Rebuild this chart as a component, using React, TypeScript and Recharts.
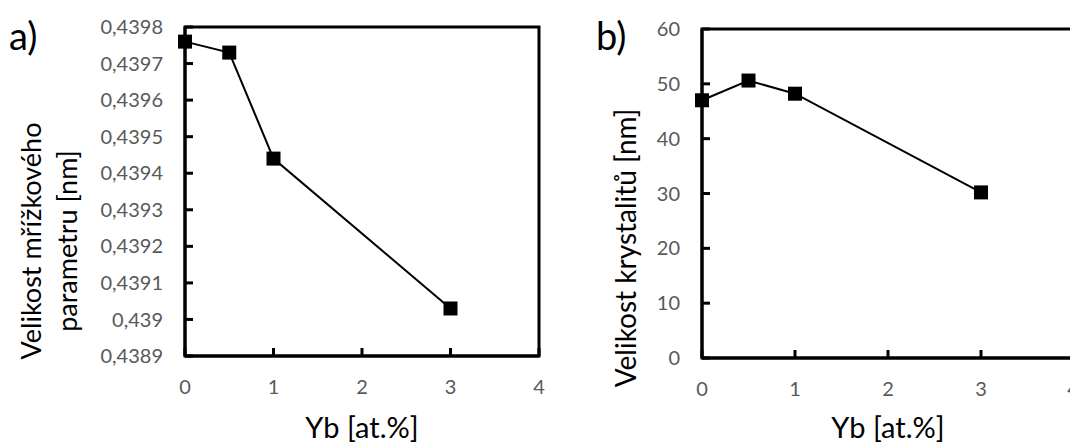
import { LineChart, Line, XAxis, YAxis, ReferenceArea } from "recharts";

const ybContent = [0, 0.5, 1, 3];
const latticeParam = [0.43976, 0.43973, 0.43944, 0.43903];
const crystalSize = [47.0, 50.6, 48.2, 30.2];

const xTicks = [0, 1, 2, 3, 4];
const latticeTicks = [0.4389, 0.439, 0.4391, 0.4392, 0.4393, 0.4394, 0.4395, 0.4396, 0.4397, 0.4398];
const sizeTicks = [0, 10, 20, 30, 40, 50, 60];

const dataA = ybContent.map((x, i) => ({ x, y: latticeParam[i] }));
const dataB = ybContent.map((x, i) => ({ x, y: crystalSize[i] }));

const FONT = "Lato, 'Open Sans', sans-serif";
const tickStyle = { fill: "#595959", fontSize: 20, fontFamily: FONT };
const frameLine = { stroke: "#000000", strokeWidth: 3 };

const fmtComma = (v: number) => String(+v.toFixed(4)).replace(".", ",");

const SquareDot = (p: any) => (
  <rect key={`d-${p.index}`} x={p.cx - 7} y={p.cy - 7} width={14} height={14} fill="#000" />
);

// rotated axis title, one <text> per line
const yTitle = (lines: string[], px: number, py: number, size: number) => () => (
  <g>
    {lines.map((l, i) => (
      <text
        key={i}
        x={px + i * 36}
        y={py}
        transform={`rotate(-90 ${px + i * 36} ${py})`}
        textAnchor="middle"
        fontFamily={FONT}
        fontSize={size}
        fill="#000"
      >
        {l}
      </text>
    ))}
  </g>
);

function Panel(props: {
  width: number;
  data: { x: number; y: number }[];
  top: number;
  right: number;
  yWidth: number;
  xHeight: number;
  yDomain: [number, number];
  yTicks: number[];
  yFormat?: (v: number) => string;
  clip?: boolean;
  title: () => React.ReactElement;
  tag: string;
  tagX: number;
}) {
  const { width, data, top, right, yWidth, xHeight, yDomain, yTicks, yFormat, clip, title, tag, tagX } = props;
  return (
    <LineChart width={width} height={444} data={data} margin={{ top, right, left: 0, bottom: 0 }}>
      <XAxis
        dataKey="x"
        type="number"
        domain={[0, 4]}
        ticks={xTicks}
        height={xHeight}
        tickSize={-8}
        tickMargin={32}
        axisLine={frameLine}
        tickLine={frameLine}
        tick={tickStyle}
        label={{ value: "Yb [at.%]", position: "insideBottom", offset: 6, fontSize: 29, fontFamily: FONT, fill: "#000" }}
      />
      <YAxis
        dataKey="y"
        type="number"
        domain={yDomain}
        ticks={yTicks}
        allowDataOverflow={clip}
        interval={0}
        width={yWidth}
        tickSize={-8}
        tickMargin={30}
        tickFormatter={yFormat}
        axisLine={frameLine}
        tickLine={frameLine}
        tick={tickStyle}
        label={{ content: title }}
      />
      <ReferenceArea x1={0} x2={4} y1={yDomain[0]} y2={yDomain[1]} fill="none" stroke="#000000" strokeWidth={3} ifOverflow="visible" />
      <Line
        dataKey="y"
        type="linear"
        stroke="#000"
        strokeWidth={2}
        dot={SquareDot}
        activeDot={false}
        isAnimationActive={false}
      />
      <text x={tagX} y={50} fontFamily={FONT} fontSize={38} fill="#000">{tag}</text>
    </LineChart>
  );
}

export default function App() {
  return (
    <div style={{ display: "grid", gridTemplateColumns: "560px 518px", position: "relative", left: -8, top: -8 }}>
      <div>
        <Panel
          width={560}
          data={dataA}
          top={27}
          right={21}
          yWidth={185}
          xHeight={88}
          yDomain={[0.4389, 0.4398]}
          yTicks={latticeTicks}
          yFormat={fmtComma}
          clip
          title={yTitle(["Velikost mřížkového", "parametru [nm]"], 41, 241, 27)}
          tag="a)"
          tagX={9}
        />
      </div>
      <div>
        <Panel
          width={518}
          data={dataB}
          top={29}
          right={4}
          yWidth={142}
          xHeight={86}
          yDomain={[0, 60]}
          yTicks={sizeTicks}
          title={yTitle(["Velikost krystalitů [nm]"], 76, 248, 28)}
          tag="b)"
          tagX={36}
        />
      </div>
    </div>
  );
}
